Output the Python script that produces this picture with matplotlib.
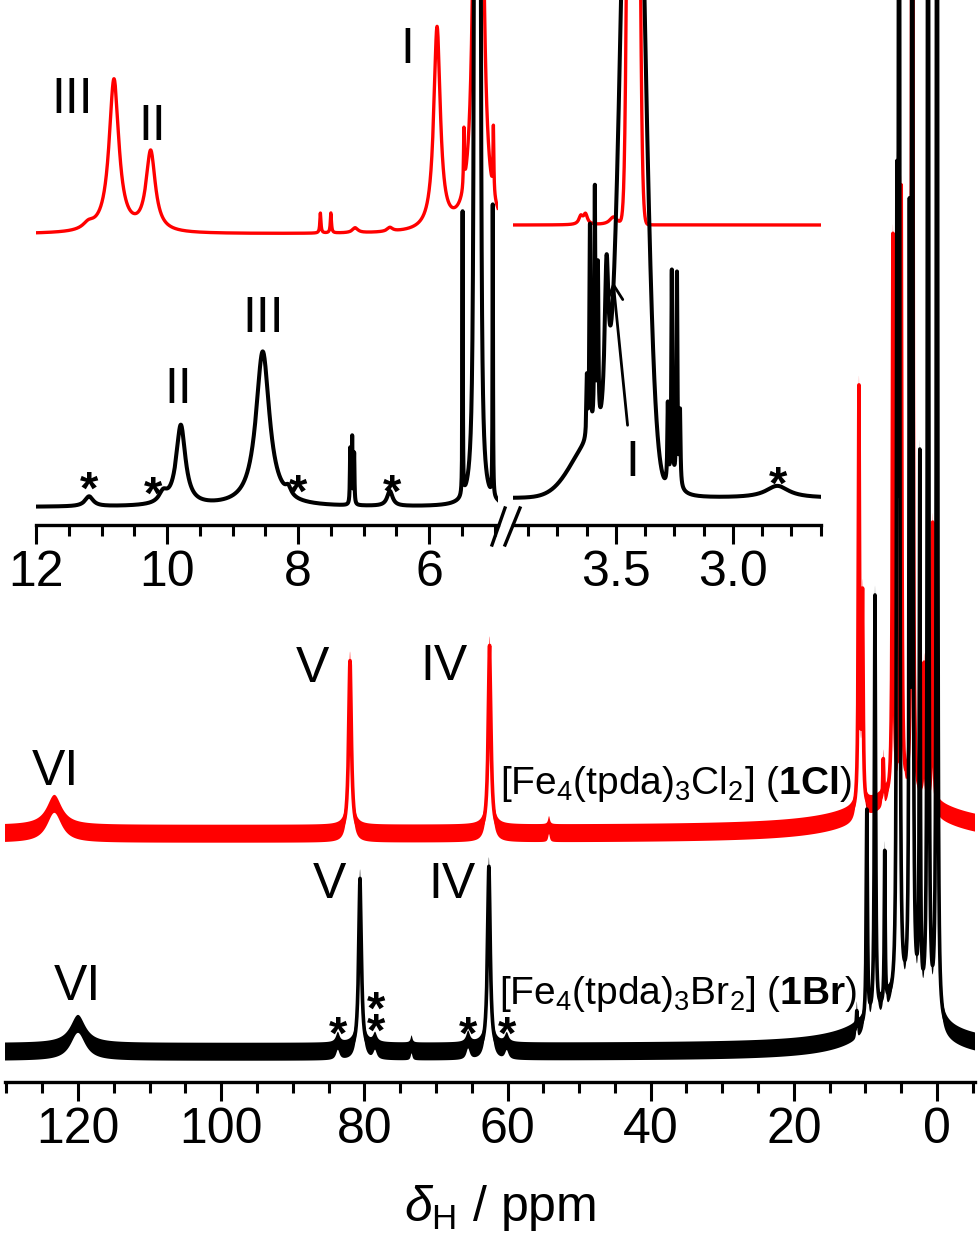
import numpy as np
import matplotlib
matplotlib.use('Agg')
import matplotlib.pyplot as plt
from matplotlib.ticker import MultipleLocator, FormatStrFormatter
from matplotlib.lines import Line2D

plt.rcParams['font.family'] = ['Liberation Sans', 'DejaVu Sans']
plt.rcParams['mathtext.fontset'] = 'custom'
plt.rcParams['mathtext.rm'] = 'Liberation Sans'
plt.rcParams['mathtext.it'] = 'Liberation Sans:italic'
plt.rcParams['mathtext.bf'] = 'Liberation Sans:bold'

RED = '#ff0000'
BLACK = '#000000'

# ---------------- data ----------------
# Main spectrum of 1Br (black): positions (ppm), heights (a.u.), FWHM (ppm)
br_ppm = [120.0, 83.7, 80.6, 78.5, 73.4, 65.5, 62.6, 60.1,
          11.2, 9.8, 8.66, 7.3, 5.6, 5.3, 3.85, 3.45, 2.4, 1.25, 0.0, 5.0]
br_h = [28, 10, 173, 9, 7, 11, 185, 9,
        19, 212, 420, 152, 720, 3000, 730, 3000, 540, 3000, 3000, 50]
br_w = [2.5, 0.6, 0.45, 0.6, 0.3, 0.6, 0.45, 0.6,
        0.15, 0.2, 0.2, 0.15, 0.15, 0.12, 0.15, 0.12, 0.15, 0.12, 0.12, 10]

# Main spectrum of 1Cl (red)
cl_ppm = [123.3, 82.0, 62.5, 54.2, 10.9, 10.4, 7.5, 6.15, 5.0, 3.45, 1.8, 0.6, 5.0]
cl_h = [30, 173, 188, 8, 420, 207, 39, 560, 605, 3000, 136, 284, 35]
cl_w = [2.5, 0.45, 0.45, 0.3, 0.2, 0.2, 0.15, 0.2, 0.2, 0.12, 0.2, 0.2, 14]

# Inset, 12 - 5 ppm, 1Cl (red)
il_cl_ppm = [11.2, 10.81, 10.25, 7.66, 7.50, 7.13, 6.60, 5.88, 5.47, 5.25, 5.02]
il_cl_h = [6, 153, 80, 20, 20, 5, 4, 202, 58, 3000, 67]
il_cl_w = [0.2, 0.18, 0.17, 0.02, 0.02, 0.1, 0.1, 0.12, 0.015, 0.054, 0.015]

# Inset, 12 - 5 ppm, 1Br (black)
il_br_ppm = [11.19, 10.06, 9.79, 8.54, 8.15, 7.205, 7.175, 7.145, 6.60,
             5.49, 5.30, 5.265, 5.23, 5.03]
il_br_h = [10, 10, 80, 155, 8, 55, 66, 50, 15, 283, 2000, 2000, 2000, 291]
il_br_w = [0.15, 0.15, 0.17, 0.25, 0.1, 0.012, 0.012, 0.012, 0.1,
           0.008, 0.02, 0.02, 0.02, 0.008]

# Inset, 3.9 - 2.6 ppm, 1Cl (red); eta = Lorentzian fraction
ir_cl_ppm = [3.65, 3.63, 3.425, 3.51]
ir_cl_h = [8, 10, 2000, 8]
ir_cl_w = [0.02, 0.02, 0.035, 0.04]
ir_cl_eta = [1, 1, 0, 1]

# Inset, 3.9 - 2.6 ppm, 1Br (black)
ir_br_ppm = [3.60, 3.624, 3.611, 3.590, 3.577, 3.54, 3.427,
             3.25, 3.278, 3.261, 3.239, 3.226, 2.81]
ir_br_h = [55, 60, 210, 242, 160, 159, 900,
           10, 80, 213, 211, 73, 12]
ir_br_w = [0.21, 0.005, 0.005, 0.005, 0.005, 0.02, 0.106,
           0.08, 0.005, 0.005, 0.005, 0.005, 0.12]
ir_br_eta = [0, 1, 1, 1, 1, 1, 0, 1, 1, 1, 1, 1, 1]

main_ticks_major, main_ticks_minor = 20, 5
left_ticks_major, left_ticks_minor = 2, 0.5
right_ticks_major, right_ticks_minor = 0.5, 0.125


def spectrum(x, pos, hgt, wid, eta=None):
    if eta is None:
        eta = [1] * len(pos)
    y = np.zeros_like(x)
    for p, h, w, e in zip(pos, hgt, wid, eta):
        d = (x - p) / w
        lor = 1.0 / (1.0 + 4.0 * d * d)
        gau = np.exp(-4.0 * np.log(2.0) * d * d)
        y += h * (e * lor + (1 - e) * gau)
    return y


# ---------------- layout ----------------
W, H = 979, 1243
fig = plt.figure(figsize=(W / 100, H / 100), dpi=100)


def rect(x0, x1, ytop, ybot):
    return [x0 / W, 1 - ybot / H, (x1 - x0) / W, (ybot - ytop) / H]


def style_axis(ax, major, minor, fmt):
    for s in ['left', 'right', 'top']:
        ax.spines[s].set_visible(False)
    ax.spines['bottom'].set_linewidth(2.4)
    ax.set_yticks([])
    ax.xaxis.set_major_locator(MultipleLocator(major))
    ax.xaxis.set_minor_locator(MultipleLocator(minor))
    ax.xaxis.set_major_formatter(FormatStrFormatter(fmt))
    ax.tick_params(axis='x', which='major', direction='out', length=14,
                   width=2.2, labelsize=36, pad=4)
    ax.tick_params(axis='x', which='minor', direction='out', length=8, width=2.2)
    ax.patch.set_alpha(0)


# main axes
ax = fig.add_axes(rect(5, 975, 0, 1082))
xm = np.arange(-5.31, 130.2, 0.002)
ax.set_xlim(130.2, -5.31)
ax.set_ylim(0, 1082)
band = 9
y_cl = 248 + spectrum(xm, cl_ppm, cl_h, cl_w)
y_br = 30 + spectrum(xm, br_ppm, br_h, br_w)
ax.fill_between(xm, y_cl - band, y_cl + band, color=RED, lw=0)
ax.plot(xm, y_cl, color=RED, lw=2.6)
ax.fill_between(xm, y_br - band, y_br + band, color=BLACK, lw=0)
ax.plot(xm, y_br, color=BLACK, lw=2.6)
style_axis(ax, main_ticks_major, main_ticks_minor, '%d')

fs = 36
star_kw = dict(ha='center', va='baseline', fontsize=34, fontweight='bold')
for (xp, yb, s) in [(123.2, 297, 'VI'), (87.3, 400, 'V'), (68.9, 402, 'IV'),
                    (120.1, 82, 'VI'), (84.9, 184, 'V'), (67.8, 184, 'IV')]:
    ax.text(xp, yb, s, ha='center', va='baseline', fontsize=fs)
for (xp, yb) in [(83.7, 33), (65.5, 33), (60.1, 33)]:
    ax.text(xp, yb, '*', **star_kw)
ax.text(78.4, 36, '*\n*', linespacing=0.36, **star_kw)
ax.text(61.05, 288, r'[Fe$_4$(tpda)$_3$Cl$_2$] ($\mathbf{1Cl}$)',
        ha='left', va='baseline', fontsize=28)
ax.text(61.2, 78, r'[Fe$_4$(tpda)$_3$Br$_2$] ($\mathbf{1Br}$)',
        ha='left', va='baseline', fontsize=28)
fig.text(500 / W, 1 - 1221 / H, r'$\delta_{\mathrm{H}}$ / ppm', ha='center',
         va='baseline', fontsize=36)

# inset left (12 - 4.95 ppm)
axl = fig.add_axes(rect(36, 498, 0, 525))
xl = np.arange(4.95, 12.0, 0.0002)
axl.set_xlim(12, 4.95)
axl.set_ylim(0, 525)
axl.plot(xl, 291 + spectrum(xl, il_cl_ppm, il_cl_h, il_cl_w), color=RED, lw=2.4)
axl.plot(xl, 18 + spectrum(xl, il_br_ppm, il_br_h, il_br_w), color=BLACK, lw=2.9)
style_axis(axl, left_ticks_major, left_ticks_minor, '%d')
for (xp, yb, s) in [(11.45, 412, 'III'), (10.23, 385, 'II'), (6.34, 462, 'I'),
                    (8.53, 193, 'III'), (9.83, 122, 'II')]:
    axl.text(xp, yb, s, ha='center', va='baseline', fontsize=fs)
for (xp, yb) in [(11.19, 21), (10.21, 16), (8.0, 18), (6.56, 18)]:
    axl.text(xp, yb, '*', **star_kw)

# inset right (3.94 - 2.625 ppm)
axr = fig.add_axes(rect(513, 820.6, 0, 525))
xr = np.arange(2.625, 3.94, 0.0001)
axr.set_xlim(3.94, 2.625)
axr.set_ylim(0, 525)
axr.plot(xr, 300 + spectrum(xr, ir_cl_ppm, ir_cl_h, ir_cl_w, ir_cl_eta), color=RED, lw=2.4)
axr.plot(xr, 27 + spectrum(xr, ir_br_ppm, ir_br_h, ir_br_w, ir_br_eta), color=BLACK, lw=2.9)
style_axis(axr, right_ticks_major, right_ticks_minor, '%.1f')
axr.text(3.432, 49, 'I', ha='center', va='baseline', fontsize=fs)
axr.text(2.808, 26, '*', **star_kw)
axr.annotate('', xy=(3.513, 246), xytext=(3.449, 97),
             arrowprops=dict(arrowstyle='->', lw=2, color=BLACK, mutation_scale=28))

# axis break marks
for (x0, y0, x1, y1) in [(492, 545, 505, 508), (505, 545, 520, 508)]:
    fig.add_artist(Line2D([x0 / W, x1 / W], [1 - y0 / H, 1 - y1 / H],
                          transform=fig.transFigure, color=BLACK, lw=2.4))

fig.savefig('out.png', dpi=100)
